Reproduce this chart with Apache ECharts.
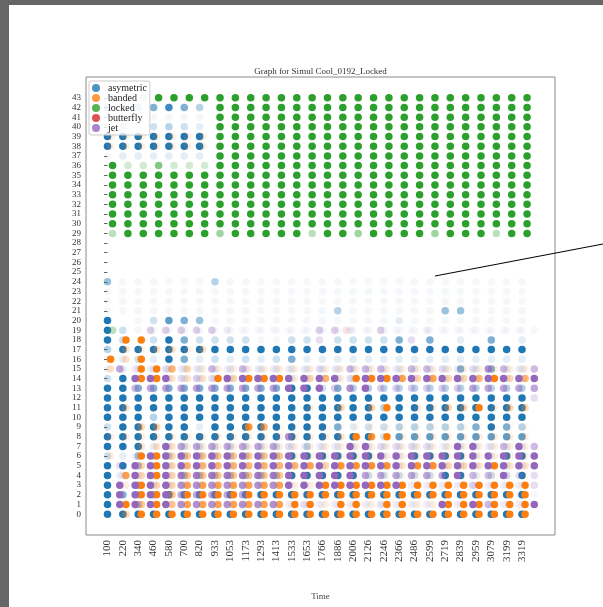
<!DOCTYPE html>
<html>
<head>
<meta charset="utf-8">
<script src="https://cdn.jsdelivr.net/npm/echarts@6/dist/echarts.min.js"></script>
<style>
  html, body { margin: 0; padding: 0; background: #ffffff; }
  #chart { width: 603px; height: 607px; }
</style>
</head>
<body>
<div id="chart"></div>
<script>
// Time stamps shown on the x axis, one per sampling column
const timeLabels = ['100','220','340','460','580','700','820','933','1053','1173','1293','1413','1533','1653',
  '1766','1886','2006','2126','2246','2366','2486','2599','2719','2839','2959','3079','3199','3319'];
const rowTicks = Array.from({ length: 44 }, (_, i) => i);
const seriesNames = ['asymetric', 'banded', 'locked', 'butterfly', 'jet'];

// Occupancy strength per row and time column, written top row (43) first.
// One character per column: '0' = empty, '1'..'9' = increasing strength.
const asymetric = [
  '0000000000000000000000000000', // 43
  '4346864000000000000000000000',
  '1111111000000000000000000000',
  '1323432000000000000000000000', // 40
  '9999999000000000000000000000',
  '9999999000000000000000000000',
  '1222222000000000000000000000',
  '', '', '', '', '', '', '', '', '', '', '', '', // 36..25
  '5111111411111111111111111111', // 24
  '1111111111111111111111111111',
  '1111111111111111111111111111',
  '1111111111111114111111551111',
  '9013765111111111111211111111', // 20
  '9311111111111111111111111111',
  '9303963333113303333606020602',
  '4999999999999999999999999999',
  '1232962323236222222222222222',
  '1222222222222222222222262622', // 15
  '3922222222222222222222222222',
  '9966666666669936444444444444',
  '9999999999999999999999999999',
  '9999999999999999994999999999',
  '9994999999999999999999999999', // 10
  '3999992999999996233444446964',
  '9999999999999999993777777777',
  '9992233333332422222222222222',
  '3254444444449999992299992299',
  '9952222222222222222222222222', // 5
  '9222255555559999933333992339',
  '9062222222221111111111111111',
  '9656999999999999999999999999',
  '9051111111111111111111111111',
  '9999999999999999999999999999'  // 0
];
const banded = [
  '', '', '', '',                 // 43..40
  '2222222000000000000000000000', // 39
  '2222222000000000000000000000',
  '', '', '', '', '', '', '', '', '', '', '', '', '', '', '', '', '', '', '', // 37..19
  '0990000000000000000000000000', // 18
  '0323323000000000000000000000',
  '9390000000000000000000000000',
  '3099642222222222222222222222', // 15
  '0099333949992462999747446946',
  '',
  '',
  '0300000000000204049022449244',
  '',                             // 10
  '0044000008611111111111111111',
  '2222222222222223989222222222',
  '0033322222222222222222222222',
  '2099455555552222222222222222',
  '0049466666666748888388443933', // 5
  '0749455555551111111111111111',
  '0294477777772299999999999999',
  '0099599999999999999999999999',
  '0959577777779929929922999999',
  '0499999999999999999999999999'  // 0
];
const locked = [
  '3339999999999999999999999999', // 43
  '0000000999999999999999999999',
  '0000000999999999999999999999',
  '0000000999999999999999999999', // 40
  '0000000999999999999999999999',
  '0000000999999999999999999999',
  '0000000999999999999999999999',
  '9336333999999999999999999999',
  '9999999999999999999999999999', // 35
  '9999999999999999999999999999',
  '9999999999999999999999999999',
  '9999999999999999999999999999',
  '9999999999999999999999999999',
  '9999999999999999999999999999', // 30
  '4999999599999499599995999499',
  '', '', '', '', '', '', '', '', '', // 28..20
  '4000000000000000000000000000', // 19
  '', '', '', '', '', '', '', '', '', '', '', '', '', '', '', '', '', '', '' // 18..0
];
const butterfly = [
  '', '', '', '', '', '', '', '', '', '', '', '', '', '', '', '', '', '', '', '', '', '', '', '', // 43..20
  '0000000000000002000000000000', // 19
  '', '', '', '', '', '', '', '', '', '', '', '', '', '', '', '', '', '', '' // 18..0
];
// jet samples sit just before each time column: character k belongs to column k + 1
const jet = [
  '', '', '', '', '', '', '', '', '', '', '', '', '', '', '', '', '', '', '', '', '', '', '', '', // 43..20
  '0044444211111442141121111111', // 19
  '0000000000000300000300000000', // 18
  '',
  '',
  '6223225252222325552553237525', // 15
  '0999343999999993999999999999',
  '0566666666699947944444466666',
  '0000000000000000000000000003',
  '',
  '',                             // 10
  '',
  '0000000000070000000000000000',
  '0009666666632229933331992595',
  '0299999999999999999999999999',
  '3999999999999999999999999999', // 5
  '2999888888899999666666955933',
  '9999777777799999999222242223',
  '9999666661111111111111111111',
  '9999777777723222232229295229',
  ''                               // 0
];

// Horizontal placement of each family inside a time column (column units)
const columnShift = { asymetric: 0, banded: 0.2, locked: 0.33, butterfly: 0.55, jet: 0.8 };
const palette = { asymetric: '#1f77b4', banded: '#ff7f0e', locked: '#2ca02c', butterfly: '#d62728', jet: '#9467bd' };
const strength = [0, 0.05, 0.12, 0.22, 0.32, 0.45, 0.58, 0.72, 0.86, 1];

function toPoints(rowsTopFirst, shift) {
  const pts = [];
  rowsTopFirst.forEach((line, idx) => {
    const row = 43 - idx;
    const s = line.padEnd(28, '0').slice(0, 28);
    for (let k = 0; k < 28; k++) {
      const a = strength[+s[k]];
      if (a > 0) pts.push({ value: [k + shift, row], itemStyle: { opacity: a } });
    }
  });
  return pts;
}

const sources = { asymetric, banded, locked, butterfly, jet };
const serif = "'Liberation Serif', 'DejaVu Serif', serif";

const chart = echarts.init(document.getElementById('chart'), null, { renderer: 'canvas' });
chart.setOption({
  animation: false,
  backgroundColor: '#ffffff',
  grid: { left: 86, top: 77, width: 469, height: 458, show: true, borderColor: '#8a8a8a', borderWidth: 1, backgroundColor: 'transparent' },
  xAxis: {
    type: 'value', min: -1.4, max: 29.15,
    name: 'Time', nameLocation: 'middle', nameGap: 57,
    nameTextStyle: { fontFamily: serif, fontSize: 9, color: '#444' },
    axisLine: { show: false },
    splitLine: { show: false },
    axisTick: { show: true, inside: false, length: 3.5, lineStyle: { color: '#666' }, customValues: rowTicks.slice(0, 28) },
    axisLabel: {
      customValues: rowTicks.slice(0, 28), rotate: 90, margin: 5,
      formatter: v => timeLabels[Math.round(v)],
      fontFamily: serif, fontSize: 11, color: '#333'
    }
  },
  yAxis: {
    type: 'value', min: -2.15, max: 45.15,
    axisLine: { show: false },
    splitLine: { show: false },
    axisTick: { show: true, inside: false, length: 3.5, lineStyle: { color: '#666' }, customValues: rowTicks },
    axisLabel: { customValues: rowTicks, margin: 5, fontFamily: serif, fontSize: 9, color: '#333' }
  },
  legend: {
    orient: 'vertical', left: 89, top: 81,
    padding: [2, 3, 2, 3], itemGap: 0, itemWidth: 14, itemHeight: 8,
    icon: 'circle',
    backgroundColor: 'rgba(255,255,255,0.8)', borderColor: '#cccccc', borderWidth: 1, borderRadius: 2,
    textStyle: { fontFamily: serif, fontSize: 10, lineHeight: 10, color: '#222' },
    data: seriesNames
  },
  graphic: [
    { type: 'rect', shape: { x: 0, y: 0, width: 9, height: 607 }, style: { fill: '#666666' }, z: 100 },
    { type: 'rect', shape: { x: 0, y: 0, width: 603, height: 5 }, style: { fill: '#666666' }, z: 100 },
    { type: 'text', x: 320.5, y: 72, style: { text: 'Graph for Simul Cool_0192_Locked', font: "9px 'Liberation Serif', serif", fill: '#333', align: 'center', verticalAlign: 'middle' } },
    { type: 'line', shape: { x1: 435, y1: 276, x2: 603, y2: 244 }, style: { stroke: '#000', lineWidth: 1 }, z: 50 }
  ],
  series: seriesNames.map(name => ({
    name, type: 'scatter', symbol: 'circle', symbolSize: 7.5,
    itemStyle: { color: palette[name] },
    emphasis: { disabled: true },
    data: toPoints(sources[name], columnShift[name])
  }))
});
</script>
</body>
</html>
